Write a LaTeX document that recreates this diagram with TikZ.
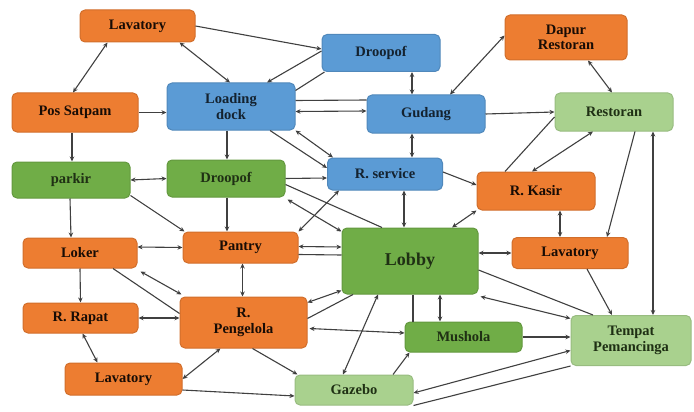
\documentclass[tikz,border=0pt]{standalone}
\usepackage{fontspec}
\setmainfont{Liberation Serif}
\usetikzlibrary{arrows.meta,calc}

\definecolor{boxorange}{HTML}{ED7D31}
\definecolor{boxblue}{HTML}{5B9BD5}
\definecolor{boxgreen}{HTML}{70AD47}
\definecolor{boxlight}{HTML}{A9D18E}

\begin{document}
\begin{tikzpicture}[x=1pt,y=-1pt,
    >={Stealth[length=5pt,width=4.5pt]},
    box/.style={rounded corners=5pt, line width=1pt, align=center, inner sep=1pt,
      font=\fontsize{14.5}{15.5}\selectfont\bfseries},
    orangebox/.style={box, fill=boxorange, draw=boxorange!88!black, text=black!90!boxorange},
    bluebox/.style={box, fill=boxblue, draw=boxblue!88!black, text=black!78!boxblue},
    greenbox/.style={box, fill=boxgreen, draw=boxgreen!88!black, text=black!72!boxgreen},
    lightbox/.style={box, fill=boxlight, draw=boxlight!90!black, text=black!72!boxgreen},
    link/.style={line width=1.1pt, draw=black!75}]
    \useasboundingbox (0,0) rectangle (694,412);

    % Draw rooms
    \node[orangebox, minimum width=115pt, minimum height=32pt] (lavtop) at (137.5,26) {Lavatory};
    \node[orangebox, minimum width=126pt, minimum height=39pt] (satpam) at (75,112.5) {Pos Satpam};
    \node[bluebox, minimum width=128pt, minimum height=47pt] (loading) at (231,106.5) {Loading\\dock};
    \node[bluebox, minimum width=118pt, minimum height=37pt] (droptop) at (381,53) {Droopof};
    \node[bluebox, minimum width=118pt, minimum height=38pt] (gudang) at (426,114) {Gudang};
    \node[orangebox, minimum width=122pt, minimum height=45pt] (dapur) at (566,37.5) {Dapur\\Restoran};
    \node[lightbox, minimum width=118pt, minimum height=38pt] (restoran) at (614,112) {Restoran};
    \node[greenbox, minimum width=118pt, minimum height=36pt] (parkir) at (71,180) {parkir};
    \node[greenbox, minimum width=118pt, minimum height=37pt] (dropmid) at (226,178.5) {Droopof};
    \node[bluebox, minimum width=115pt, minimum height=32pt] (service) at (385,174) {R. service};
    \node[orangebox, minimum width=118pt, minimum height=38pt] (kasir) at (536,191) {R. Kasir};
    \node[orangebox, minimum width=114pt, minimum height=30pt] (loker) at (80,253) {Loker};
    \node[orangebox, minimum width=115pt, minimum height=31pt] (pantry) at (240.5,247.5) {Pantry};
    \node[greenbox, minimum width=136pt, minimum height=66pt, font=\fontsize{18}{20}\selectfont\bfseries] (lobby) at (410,261) {Lobby};
    \node[orangebox, minimum width=116pt, minimum height=31pt] (lavright) at (570,253) {Lavatory};
    \node[orangebox, minimum width=115pt, minimum height=30pt] (rapat) at (80.5,318) {R. Rapat};
    \node[orangebox, minimum width=127pt, minimum height=51pt] (pengelola) at (243.5,322.5) {R.\\Pengelola};
    \node[orangebox, minimum width=117pt, minimum height=32pt] (lavbottom) at (123.5,379) {Lavatory};
    \node[greenbox, minimum width=117pt, minimum height=30pt] (mushola) at (463.5,337) {Mushola};
    \node[lightbox, minimum width=120pt, minimum height=50pt] (tempat) at (631,340.5) {Tempat\\Pemancinga};
    \node[lightbox, minimum width=118pt, minimum height=30pt] (gazebo) at (354,390) {Gazebo};

    % Top row links
    \draw[link,<->] ($(lavtop.south)+(-30,0)$) -- ($(satpam.north)+(-2,0)$);
    \draw[link,<->] ($(lavtop.south)+(42,0)$) -- ($(loading.north)+(-1,0)$);
    \draw[link,->] (lavtop.east) -- ($(droptop.west)+(0,-4)$);
    \draw[link,->] ($(droptop.west)+(0,-2)$) -- ($(loading.north)+(36,0)$);
    \draw[link] ($(loading.north east)+(0,8)$) -- ($(droptop.south west)+(3,0)$);
    \draw[link,->] (satpam.east) -- (satpam.east -| loading.west);
    \draw[link,->] ($(satpam.south)+(-3,0)$) -- ($(parkir.north)+(1,0)$);
    \draw[link] ($(loading.east)+(0,-6)$) -- ($(gudang.west)+(0,-14)$);
    \draw[link,<->] ($(loading.east)+(0,5)$) -- ($(gudang.west)+(0,-3)$);
    \draw[link,<->] ($(droptop.south)+(31,0)$) -- ($(gudang.north)+(-14,0)$);
    \draw[link,<->] ($(gudang.north)+(24,0)$) -- ($(dapur.west)+(0,-2)$);
    \draw[link,<->] ($(dapur.south)+(22,0)$) -- ($(restoran.north)+(-2,0)$);
    \draw[link,->] (gudang.east) -- (restoran.west);
    \draw[link,<->] ($(gudang.south)+(-14,0)$) -- ($(service.north)+(27,0)$);

    % Middle links
    \draw[link,->] ($(loading.south)+(-4,0)$) -- ($(dropmid.north)+(1,0)$);
    \draw[link,->] ($(loading.south)+(39,0)$) -- ($(service.west)+(0,-6)$);
    \draw[link,<->] (loading.south east) -- ($(service.north west)+(6,0)$);
    \draw[link,<->] (parkir.east) -- (dropmid.west);
    \draw[link,->] (dropmid.east) -- ($(service.west)+(0,4)$);
    \draw[link,->] ($(parkir.south)+(-1,0)$) -- ($(loker.north)+(-9,0)$);
    \draw[link,->] ($(parkir.south east)+(0,-3)$) -- ($(pantry.north west)+(2,0)$);
    \draw[link,->] ($(dropmid.south)+(1,0)$) -- ($(pantry.north)+(-13.5,0)$);
    \draw[link] ($(dropmid.east)+(0,6)$) -- ($(lobby.north)+(-28,0)$);
    \draw[link,<->] ($(dropmid.south east)+(2,2)$) -- ($(lobby.north west)+(0,4)$);
    \draw[link,<->] ($(service.south west)+(12,0)$) -- (pantry.north east);
    \draw[link,<->] ($(service.south)+(19,0)$) -- ($(lobby.north)+(-6,0)$);
    \draw[link,->] ($(service.east)+(0,-2)$) -- ($(kasir.west)+(0,-6)$);
    \draw[link,<->] ($(lobby.north)+(42,0)$) -- (kasir.south west);
    \draw[link] ($(restoran.west)+(0,5)$) -- ($(kasir.north)+(-31,0)$);
    \draw[link,<->] ($(restoran.south)+(-21,0)$) -- ($(kasir.north)+(-4,0)$);
    \draw[link,->] ($(restoran.south)+(21,0)$) -- ($(lavright.north)+(37,0)$);
    \draw[link,<->] ($(restoran.south)+(39,0)$) -- ($(tempat.north)+(22,0)$);
    \draw[link,<->] ($(kasir.south)+(24,0)$) -- ($(lavright.north)+(-10,0)$);
    \draw[link,<->] ($(lobby.east)+(0,-8)$) -- (lavright.west);
    \draw[link,->] ($(lavright.south)+(17,0)$) -- ($(tempat.north)+(-19,0)$);

    % Lower links
    \draw[link,<->] ($(loker.east)+(0,-6)$) -- (pantry.west);
    \draw[link,<->] ($(pantry.east)+(0,-1)$) -- ($(lobby.west)+(0,-14)$);
    \draw[link] ($(pantry.east)+(0,7)$) -- ($(lobby.west)+(0,-6)$);
    \draw[link,<->] ($(pantry.south)+(2,0)$) -- ($(pengelola.north)+(-1,0)$);
    \draw[link] ($(loker.south)+(33,0)$) -- ($(pengelola.west)+(0,-9)$);
    \draw[link,<->] ($(loker.south east)+(3,3)$) -- ($(pengelola.north west)+(2,-2)$);
    \draw[link,->] (loker.south) -- (rapat.north);
    \draw[link,<->] (rapat.east) -- (rapat.east -| pengelola.west);
    \draw[link,<->] ($(rapat.south)+(2,0)$) -- ($(lavbottom.north)+(-26,0)$);
    \draw[link,<->] ($(pengelola.south)+(-23,0)$) -- (lavbottom.east);
    \draw[link,->] ($(lavbottom.east)+(0,11)$) -- ($(gazebo.west)+(0,6)$);
    \draw[link,->] ($(pengelola.south)+(9,0)$) -- ($(gazebo.north west)+(3,0)$);
    \draw[link,<->] ($(lobby.south west)+(0,-4)$) -- ($(pengelola.north east)+(0,6)$);
    \draw[link] ($(lobby.south)+(-57,0)$) -- ($(pengelola.east)+(0,-4)$);
    \draw[link,<->] ($(pengelola.east)+(2,6)$) -- ($(mushola.west)+(0,-4)$);
    \draw[link] ($(lobby.south)+(3,0)$) -- ($(mushola.north)+(-50.5,0)$);
    \draw[link,<->] ($(lobby.south)+(30,0)$) -- ($(mushola.north)+(-23.5,0)$);
    \draw[link,<->] ($(lobby.south)+(-32,0)$) -- ($(gazebo.north)+(-11,0)$);
    \draw[link,->] ($(gazebo.north)+(39,0)$) -- ($(mushola.south west)+(5,0)$);
    \draw[link,->] (mushola.east) -- (mushola.east -| tempat.west);
    \draw[link,<->] ($(lobby.south east)+(2,2)$) -- ($(tempat.west)+(0,-22)$);
    \draw[link] ($(lobby.east)+(0,9)$) -- ($(tempat.north)+(-38,0)$);
    \draw[link,<->] ($(gazebo.east)+(0,3)$) -- ($(tempat.west)+(0,10)$);
    \draw[link] (gazebo.south east) -- (tempat.south west);
\end{tikzpicture}
\end{document}
